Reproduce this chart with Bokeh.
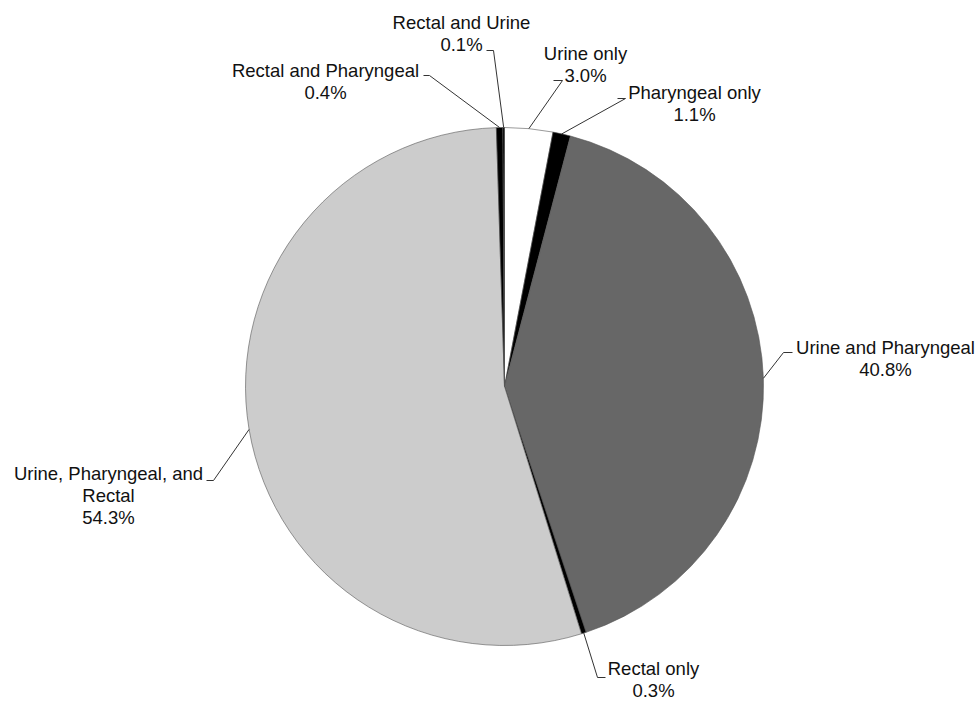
import math
from bokeh.plotting import figure
from bokeh.models import Range1d, ColumnDataSource
from bokeh.core.properties import value
from bokeh.embed import file_html
from bokeh.resources import INLINE

# ---- data ----
categories = ["Urine only", "Pharyngeal only", "Urine and Pharyngeal", "Rectal only",
              "Urine, Pharyngeal, and Rectal", "Rectal and Pharyngeal", "Rectal and Urine"]
percents = [3.0, 1.1, 40.8, 0.3, 54.3, 0.4, 0.1]
label_lines = [["Urine only"], ["Pharyngeal only"], ["Urine and Pharyngeal"], ["Rectal only"],
               ["Urine, Pharyngeal, and", "Rectal"], ["Rectal and Pharyngeal"], ["Rectal and Urine"]]
colors = ["#ffffff", "#000000", "#676767", "#000000", "#cccccc", "#000000", "#000000"]

# ---- layout (pixel coordinates, y downward) ----
W, H = 977, 701
CX, CY, R = 504, 386, 259
# text centre x, first line y, leader elbow (outer, inner)
layout = {
    "Urine only": (585, 53, (553, 80), (562, 80)),
    "Pharyngeal only": (694, 92, (617, 98), (625, 98)),
    "Urine and Pharyngeal": (885, 347, (792, 352), (783, 352)),
    "Rectal only": (653, 668, (605, 677), (597, 677)),
    "Urine, Pharyngeal, and Rectal": (108, 473, (206, 480), (213, 480)),
    "Rectal and Pharyngeal": (325, 70, (423, 75), (429, 75)),
    "Rectal and Urine": (461, 22, (486, 50), (493, 50)),
}
LINE_H = 22

def fy(y):
    return H - y

p = figure(width=W, height=H, x_range=Range1d(0, W), y_range=Range1d(0, H),
           output_backend="svg", toolbar_location=None, x_axis_type=None, y_axis_type=None,
           min_border=0, min_border_left=0, min_border_right=0, min_border_top=0, min_border_bottom=0)
p.grid.visible = False
p.outline_line_color = None
p.background_fill_color = "white"
p.border_fill_color = "white"

total = sum(percents)
starts, ends, mids = [], [], []
cum = 0.0
for v in percents:
    a0 = math.pi / 2 - 2 * math.pi * cum / total
    cum += v
    a1 = math.pi / 2 - 2 * math.pi * cum / total
    starts.append(a0)
    ends.append(a1)
    mids.append((a0 + a1) / 2)

src = ColumnDataSource(dict(start=starts, end=ends, color=colors, cat=categories))
p.wedge(x=CX, y=fy(CY), radius=R, start_angle="start", end_angle="end", direction="clock",
        fill_color="color", line_color="#555555", line_width=0.6, source=src)

xs, ys = [], []
tx, ty, tt = [], [], []
for cat, pct, lines, mid in zip(categories, percents, label_lines, mids):
    cx_t, y0, outer, inner = layout[cat]
    ax = CX + R * math.cos(mid)
    ay = fy(CY) + R * math.sin(mid)
    xs.append([ax, inner[0], outer[0]])
    ys.append([ay, fy(inner[1]), fy(outer[1])])
    all_lines = lines + [f"{pct:.1f}%"]
    for i, ln in enumerate(all_lines):
        tx.append(cx_t)
        ty.append(fy(y0 + i * LINE_H))
        tt.append(ln)

p.multi_line(xs=xs, ys=ys, line_color="#333333", line_width=1)
p.text(x=tx, y=ty, text=tt, text_align="center", text_baseline="middle",
       text_font=value("Liberation Sans"), text_font_size="18.5px", text_color="#111111")

open("out.html", "w").write(file_html(p, INLINE))
